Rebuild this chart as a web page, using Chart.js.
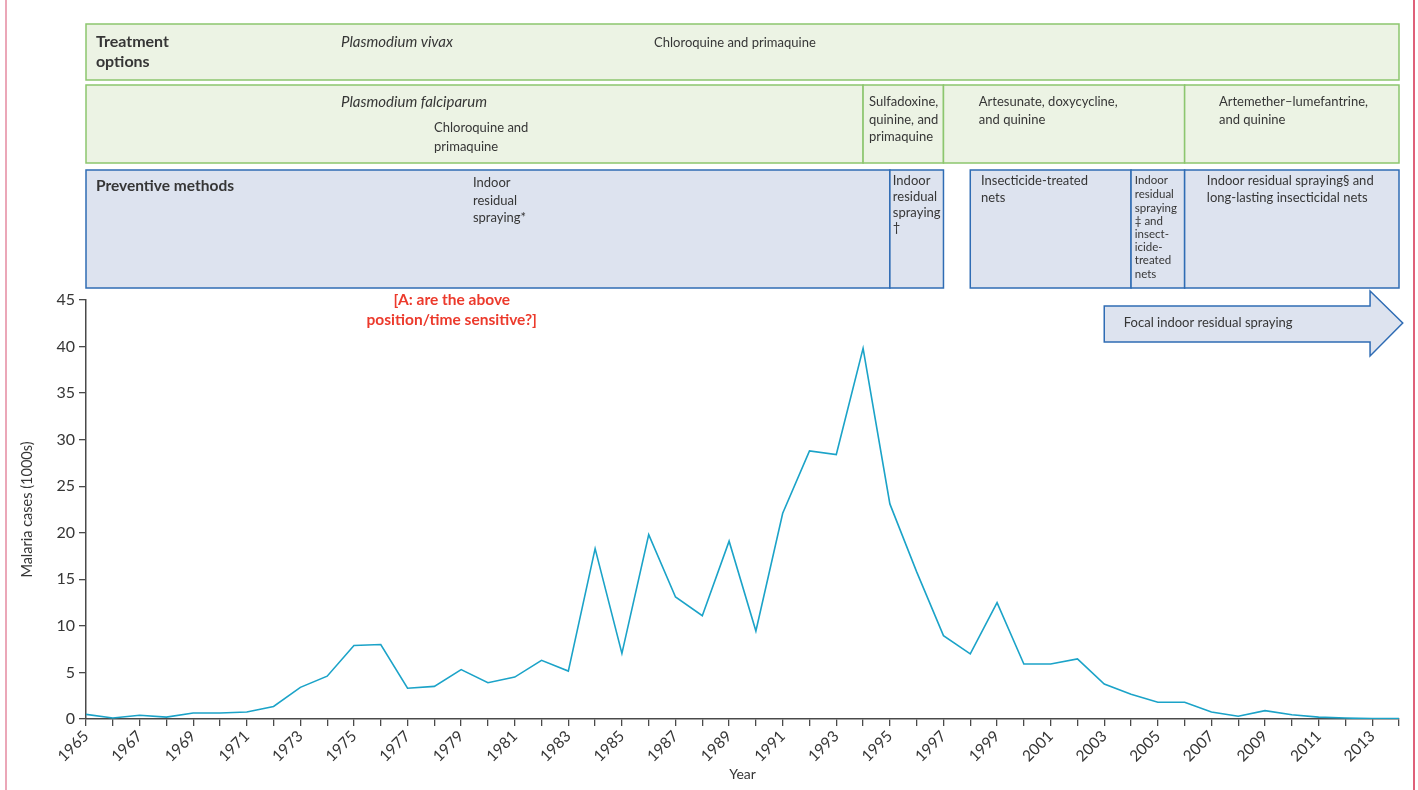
<!DOCTYPE html>
<html>
<head>
<meta charset="utf-8">
<title>Malaria cases 1965-2014</title>
<script src="https://cdn.jsdelivr.net/npm/chart.js@4.4.1/dist/chart.umd.min.js"></script>
<style>
  html, body { margin: 0; padding: 0; background: #fff; }
  #wrap { position: relative; width: 1418px; height: 790px; }
</style>
</head>
<body>
<div id="wrap"><canvas id="chart" width="1418" height="790"></canvas></div>
<script>
// Data
const years = [1965, 1966, 1967, 1968, 1969, 1970, 1971, 1972, 1973, 1974,
  1975, 1976, 1977, 1978, 1979, 1980, 1981, 1982, 1983, 1984,
  1985, 1986, 1987, 1988, 1989, 1990, 1991, 1992, 1993, 1994,
  1995, 1996, 1997, 1998, 1999, 2000, 2001, 2002, 2003, 2004,
  2005, 2006, 2007, 2008, 2009, 2010, 2011, 2012, 2013, 2014]
const cases = [0.5, 0.1, 0.4, 0.2, 0.65, 0.65, 0.75, 1.35, 3.4, 4.6,
  7.9, 8.0, 3.3, 3.5, 5.3, 3.9, 4.5, 6.3, 5.15, 18.3,
  7.05, 19.8, 13.1, 11.1, 19.1, 9.45, 22.1, 28.8, 28.4, 39.8,
  23.1, 15.8, 8.95, 7.0, 12.5, 5.9, 5.9, 6.45, 3.75, 2.65,
  1.8, 1.8, 0.75, 0.3, 0.9, 0.45, 0.2, 0.1, 0.05, 0.05]
const labelYears = years.filter(y => y % 2 === 1)

const FONT = "Lato, 'Noto Sans', sans-serif"
const TEXT = "#363636"
const AXIS = "#4a4a4a"
const LINE = "#1ba3c8"
const GREEN = { fill: "#ecf3e4", line: "#8cc66e" }
const BLUE = { fill: "#dde3ef", line: "#2f6cb4" }

// Panels above the plot: spans in years, rows in pixels
const cells = [
  { from: 1965, to: 2014, top: 24, bottom: 80, c: GREEN },
  { from: 1965, to: 1994, top: 85, bottom: 163, c: GREEN },
  { from: 1994, to: 1997, top: 85, bottom: 163, c: GREEN },
  { from: 1997, to: 2006, top: 85, bottom: 163, c: GREEN },
  { from: 2006, to: 2014, top: 85, bottom: 163, c: GREEN },
  { from: 1965, to: 1995, top: 170, bottom: 288, c: BLUE },
  { from: 1995, to: 1997, top: 170, bottom: 288, c: BLUE },
  { from: 1998, to: 2004, top: 170, bottom: 288, c: BLUE },
  { from: 2004, to: 2006, top: 170, bottom: 288, c: BLUE },
  { from: 2006, to: 2014, top: 170, bottom: 288, c: BLUE }
]

const notes = [
  { at: 1965.37, y: [42, 62], lines: ["Treatment", "options"], font: "bold 16px" },
  { at: 1974.52, y: [42], lines: ["Plasmodium vivax"], font: "italic 15px" },
  { at: 1986.2, y: [43], lines: ["Chloroquine and primaquine"], font: "13px" },
  { at: 1974.52, y: [102], lines: ["Plasmodium falciparum"], font: "italic 15px" },
  { at: 1977.99, y: [128, 147], lines: ["Chloroquine and", "primaquine"], font: "13px" },
  { at: 1994.22, y: [102, 120, 137], lines: ["Sulfadoxine,", "quinine, and", "primaquine"], font: "13px" },
  { at: 1998.32, y: [102, 120], lines: ["Artesunate, doxycycline,", "and quinine"], font: "13px" },
  { at: 2007.28, y: [102, 120], lines: ["Artemether–lumefantrine,", "and quinine"], font: "13px" },
  { at: 1965.37, y: [186], lines: ["Preventive methods"], font: "bold 15.5px" },
  { at: 1979.44, y: [183, 201, 218], lines: ["Indoor", "residual", "spraying*"], font: "13px" },
  { at: 1995.11, y: [181, 197, 213, 228], lines: ["Indoor", "residual", "spraying", "†"], font: "13px" },
  { at: 1998.4, y: [181, 198], lines: ["Insecticide-treated", "nets"], font: "13px" },
  { at: 2004.14, y: [180, 194, 208, 221, 234, 247, 260, 274],
    lines: ["Indoor", "residual", "spraying", "‡ and", "insect-", "icide-", "treated", "nets"], font: "11.5px" },
  { at: 2006.83, y: [181, 198], lines: ["Indoor residual spraying§ and", "long-lasting insecticidal nets"], font: "13px" },
  { at: 2003.73, y: [323], lines: ["Focal indoor residual spraying"], font: "13px" }
]

const query = { at: 1978.65, y: [300, 320], lines: ["[A: are the above", "position/time sensitive?]"] }
const arrowSpan = { from: 2003, to: 2012.92, tip: 2014.14 }

const panelPlugin = {
  id: "panels",
  beforeDraw(chart) {
    const ctx = chart.ctx
    const px = v => chart.scales.x.getPixelForValue(v)
    ctx.save()

    // page edge marks
    ctx.lineWidth = 1.5
    ctx.strokeStyle = "#e58aa0"
    ctx.beginPath(); ctx.moveTo(6, 0); ctx.lineTo(6, 790); ctx.stroke()
    ctx.strokeStyle = "#d42b4c"
    ctx.beginPath(); ctx.moveTo(1414, 0); ctx.lineTo(1414, 790); ctx.stroke()

    cells.forEach(b => {
      const x0 = px(b.from), x1 = px(b.to)
      ctx.fillStyle = b.c.fill
      ctx.fillRect(x0, b.top, x1 - x0, b.bottom - b.top)
      ctx.strokeStyle = b.c.line
      ctx.lineWidth = 1.5
      ctx.strokeRect(x0, b.top, x1 - x0, b.bottom - b.top)
    })

    // focal IRS arrow
    const a0 = px(arrowSpan.from), a1 = px(arrowSpan.to), tip = px(arrowSpan.tip)
    ctx.beginPath()
    ctx.moveTo(a0, 306); ctx.lineTo(a1, 306); ctx.lineTo(a1, 291); ctx.lineTo(tip, 323)
    ctx.lineTo(a1, 356); ctx.lineTo(a1, 342); ctx.lineTo(a0, 342); ctx.closePath()
    ctx.fillStyle = BLUE.fill; ctx.fill()
    ctx.strokeStyle = BLUE.line; ctx.lineWidth = 1.5; ctx.stroke()

    ctx.textBaseline = "middle"
    ctx.textAlign = "left"
    ctx.fillStyle = TEXT
    notes.forEach(n => {
      ctx.font = n.font + " " + FONT
      n.lines.forEach((t, i) => ctx.fillText(t, px(n.at), n.y[i]))
    })

    ctx.textAlign = "center"
    ctx.fillStyle = "#ec3a2c"
    ctx.font = "bold 15.5px " + FONT
    query.lines.forEach((t, i) => ctx.fillText(t, px(query.at), query.y[i]))
    ctx.restore()
  }
}

new Chart(document.getElementById("chart"), {
  type: "line",
  data: {
    datasets: [{
      data: years.map((y, i) => ({ x: y, y: cases[i] })),
      borderColor: LINE,
      borderWidth: 1.6,
      pointRadius: 0,
      tension: 0,
      fill: false
    }]
  },
  plugins: [panelPlugin],
  options: {
    responsive: false,
    animation: false,
    layout: { padding: { top: 300, left: 14, right: 19, bottom: 4 } },
    plugins: { legend: { display: false }, tooltip: { enabled: false } },
    scales: {
      x: {
        type: "linear",
        min: years[0],
        max: years[years.length - 1],
        afterBuildTicks: s => { s.ticks = years.map(v => ({ value: v })) },
        afterFit: s => { s.height = 67 },
        ticks: {
          autoSkip: false,
          maxRotation: 45,
          minRotation: 45,
          padding: 1,
          color: TEXT,
          font: { family: FONT, size: 15.5 },
          callback: v => labelYears.includes(v) ? String(v) : ""
        },
        grid: { drawOnChartArea: false, drawTicks: true, tickLength: 7, color: AXIS, lineWidth: 1.3 },
        border: { display: true, color: AXIS, width: 1.5 },
        title: { display: true, text: "Year", color: TEXT, font: { family: FONT, size: 14 }, padding: { top: 0, bottom: 3 } }
      },
      y: {
        min: 0,
        max: 45,
        afterFit: s => { s.width = 72 },
        ticks: { stepSize: 5, padding: 4, color: TEXT, font: { family: FONT, size: 16 } },
        grid: { drawOnChartArea: false, drawTicks: true, tickLength: 7, color: AXIS, lineWidth: 1.3 },
        border: { display: true, color: AXIS, width: 1.5 },
        title: { display: true, text: "Malaria cases (1000s)", color: TEXT, font: { family: FONT, size: 14.5 }, padding: { top: 5, bottom: 0 } }
      }
    }
  }
})
</script>
</body>
</html>
